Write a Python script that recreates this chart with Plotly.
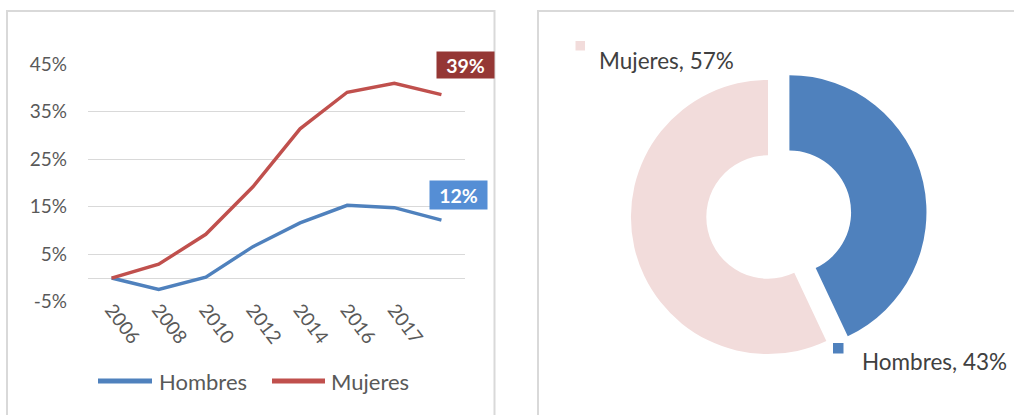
import plotly.graph_objects as go

# ---- data ----
years = ["2006", "2008", "2010", "2012", "2014", "2016", "2017", ""]
hombres = [0.0, -0.024, 0.002, 0.066, 0.116, 0.153, 0.148, 0.122]
mujeres = [0.0, 0.029, 0.092, 0.192, 0.314, 0.391, 0.410, 0.386]
y_tick_vals = [-0.05, 0.05, 0.15, 0.25, 0.35, 0.45]
y_tick_labels = ["-5%", "5%", "15%", "25%", "35%", "45%"]
pie_labels = ["Hombres", "Mujeres"]
pie_values = [43, 57]

W, H = 1014, 415
FONT = "Lato"
C_HOM = "#4F81BD"
C_MUJ = "#C0504D"
C_HOM_BOX = "#558ED5"
C_MUJ_BOX = "#953735"
C_PIE_HOM = "#4F81BD"
C_PIE_MUJ = "#F2DCDB"
GRID = "#D9D9D9"


def px(x):
    return x / W


def py(y):
    return 1 - y / H


xs = list(range(len(years)))

fig = go.Figure()
fig.add_trace(go.Scatter(x=xs, y=hombres, mode="lines", name="Hombres",
                         line=dict(color=C_HOM, width=3.4), hoverinfo="skip"))
fig.add_trace(go.Scatter(x=xs, y=mujeres, mode="lines", name="Mujeres",
                         line=dict(color=C_MUJ, width=3.4), hoverinfo="skip"))

fig.add_trace(go.Pie(labels=pie_labels, values=pie_values, sort=False,
                     direction="clockwise", rotation=0, hole=0.45,
                     pull=[0.16, 0], textinfo="none", hoverinfo="skip",
                     marker=dict(colors=[C_PIE_HOM, C_PIE_MUJ], line=dict(width=0)),
                     domain=dict(x=[px(609), px(927)], y=[py(376), py(58)]),
                     showlegend=False))

fig.update_layout(
    width=W, height=H, autosize=False,
    margin=dict(l=0, r=0, t=0, b=0, autoexpand=False),
    paper_bgcolor="white", plot_bgcolor="white",
    showlegend=False,
    font=dict(family=FONT, color="#595959"),
    xaxis=dict(domain=[px(88), px(465)], range=[-0.5, len(years) - 0.5],
               tickvals=xs, ticktext=years, tickangle=53,
               showgrid=False, zeroline=False, showline=False, ticks="",
               ticklabelstandoff=-8,
               tickfont=dict(size=19, color="#595959")),
    yaxis=dict(domain=[py(302), py(64)], range=[-0.0505, 0.4505],
               tickvals=y_tick_vals, ticktext=y_tick_labels,
               showgrid=True, gridcolor=GRID, gridwidth=1,
               zeroline=True, zerolinecolor=GRID, zerolinewidth=1,
               showline=False, ticks="", ticklabelstandoff=20,
               tickfont=dict(size=19, color="#595959")),
)

shapes = []
# panel borders
shapes.append(dict(type="rect", xref="paper", yref="paper",
                   x0=px(7), x1=px(494.5), y0=py(430), y1=py(11),
                   line=dict(color=GRID, width=2), fillcolor="rgba(0,0,0,0)"))
shapes.append(dict(type="rect", xref="paper", yref="paper",
                   x0=px(538), x1=px(1030), y0=py(430), y1=py(11),
                   line=dict(color=GRID, width=2), fillcolor="rgba(0,0,0,0)"))

annotations = []
# data labels on last points
last = len(years) - 1
annotations.append(dict(x=last, y=mujeres[last], xref="x", yref="y",
                        text=f"<b>{round(mujeres[last]*100)}%</b>", showarrow=False,
                        xshift=24, yshift=30, bgcolor=C_MUJ_BOX, borderpad=0,
                        width=57, height=26,
                        font=dict(family=FONT, size=19.5, color="white")))
annotations.append(dict(x=last, y=hombres[last], xref="x", yref="y",
                        text=f"<b>{round(hombres[last]*100)}%</b>", showarrow=False,
                        xshift=17, yshift=25, bgcolor=C_HOM_BOX, borderpad=0,
                        width=57, height=28,
                        font=dict(family=FONT, size=19.5, color="white")))

# manual legend
legend_items = [("Hombres", C_HOM, 98, 152, 157), ("Mujeres", C_MUJ, 272, 325, 329)]
for name, col, lx0, lx1, tx in legend_items:
    shapes.append(dict(type="line", xref="paper", yref="paper",
                       x0=px(lx0), x1=px(lx1), y0=py(381), y1=py(381),
                       line=dict(color=col, width=5)))
    annotations.append(dict(x=px(tx), y=py(381), xref="paper", yref="paper",
                            text=name, showarrow=False, xanchor="left", yanchor="middle",
                            font=dict(family=FONT, size=22, color="#595959")))

# pie labels with legend keys
pie_label_pos = {"Mujeres": (575.5, 585, 41, 50.5, 597, 61),
                 "Hombres": (833, 843.5, 343, 353.5, 860, 361)}
pie_cols = {"Hombres": C_PIE_HOM, "Mujeres": C_PIE_MUJ}
for lab, val in zip(pie_labels, pie_values):
    sx0, sx1, sy0, sy1, tx, ty = pie_label_pos[lab]
    shapes.append(dict(type="rect", xref="paper", yref="paper",
                       x0=px(sx0), x1=px(sx1), y0=py(sy1), y1=py(sy0),
                       line=dict(width=0), fillcolor=pie_cols[lab]))
    annotations.append(dict(x=px(tx), y=py(ty), xref="paper", yref="paper",
                            text=f"{lab}, {val}%", showarrow=False,
                            xanchor="left", yanchor="middle",
                            font=dict(family=FONT, size=22.5, color="#404040")))

fig.update_layout(shapes=shapes, annotations=annotations)

fig.write_html("out.html", config={"displayModeBar": False},
               post_script="document.body.style.margin='0';")
